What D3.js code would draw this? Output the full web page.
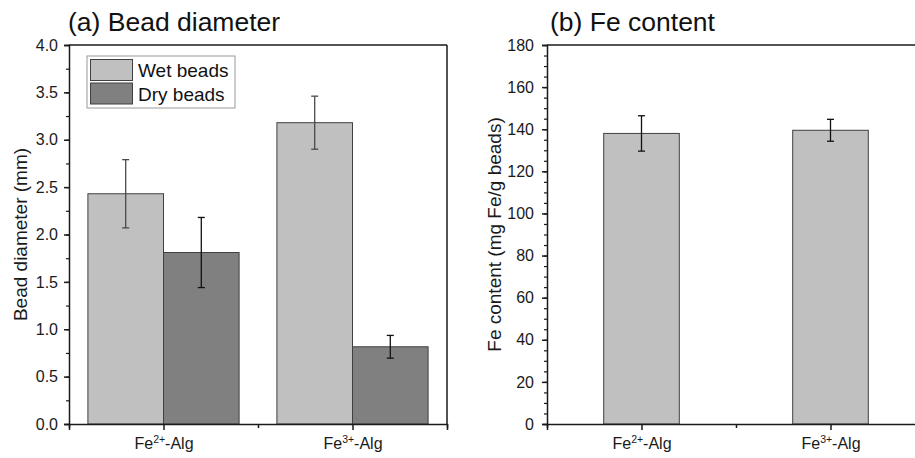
<!DOCTYPE html>
<html>
<head>
<meta charset="utf-8">
<script src="https://cdn.jsdelivr.net/npm/d3@7"></script>
<style>
  body { margin: 0; background: #fff; }
  svg { display: block; font-family: "Liberation Sans", Arial, sans-serif; }
</style>
</head>
<body>
<svg id="chart" width="915" height="458"></svg>
<script>
// ---- data ----
const categories = [1, 2];
const categoryIons = ["2+", "3+"];
const seriesNames = ["Wet beads", "Dry beads"];
const wetDiameter = [2.43, 3.18];
const wetDiameterErr = [0.36, 0.28];
const dryDiameter = [1.81, 0.815];
const dryDiameterErr = [0.37, 0.12];
const feContent = [138.0, 139.5];
const feContentErr = [8.4, 5.2];
const diamTicks = [0, 0.5, 1.0, 1.5, 2.0, 2.5, 3.0, 3.5, 4.0];
const feTicks = [0, 20, 40, 60, 80, 100, 120, 140, 160, 180];

// ---- style ----
const wetColor = "#c0c0c0", dryColor = "#808080", barStroke = "#404040";
const axisColor = "#1a1a1a";
const svg = d3.select("#chart");

function drawPanel(opts) {
  const g = svg.append("g");
  const x = d3.scaleLinear().domain([0.5, 2.5]).range(opts.xr);
  const y = d3.scaleLinear().domain(opts.ydom).range([424, 45]);

  // bars
  opts.series.forEach(s => {
    g.selectAll(null).data(s.values).enter().append("rect")
      .attr("x", (d, i) => x(categories[i] + s.offset))
      .attr("width", x(1.4) - x(1.0))
      .attr("y", d => y(d))
      .attr("height", d => y(0) - y(d))
      .attr("fill", s.color)
      .attr("stroke", barStroke)
      .attr("stroke-width", 1);
  });
  // error bars
  opts.series.forEach(s => {
    const cx = i => x(categories[i] + s.offset + 0.2);
    const eg = g.append("g").attr("stroke", s.errColor).attr("stroke-width", 1.3);
    s.values.forEach((v, i) => {
      const hi = y(v + s.err[i]), lo = y(v - s.err[i]);
      eg.append("line").attr("x1", cx(i)).attr("x2", cx(i)).attr("y1", hi).attr("y2", lo);
      eg.append("line").attr("x1", cx(i) - 3.5).attr("x2", cx(i) + 3.5).attr("y1", hi).attr("y2", hi);
      eg.append("line").attr("x1", cx(i) - 3.5).attr("x2", cx(i) + 3.5).attr("y1", lo).attr("y2", lo);
    });
  });

  // frame: top and right
  g.append("line").attr("x1", x(0.5)).attr("x2", x(2.5)).attr("y1", y.range()[1]).attr("y2", y.range()[1])
    .attr("stroke", axisColor).attr("stroke-width", 1.5);
  g.append("line").attr("x1", x(2.5)).attr("x2", x(2.5)).attr("y1", y.range()[0]).attr("y2", y.range()[1])
    .attr("stroke", axisColor).attr("stroke-width", 1.5);

  // y axis minor
  const ymin = d3.range(opts.ydom[0], opts.ydom[1] + 1e-9, opts.minorStep);
  const yMinorAxis = d3.axisLeft(y).tickValues(ymin).tickSize(3).tickFormat("");
  const ym = g.append("g").attr("transform", `translate(${x(0.5)},0)`).call(yMinorAxis);
  ym.select(".domain").remove();
  ym.selectAll("line").attr("stroke", axisColor).attr("stroke-width", 1.2);
  // y axis major
  const yAxis = d3.axisLeft(y).tickValues(opts.yticks).tickSize(5).tickPadding(opts.tickPad)
    .tickFormat(opts.fmt);
  const ya = g.append("g").attr("transform", `translate(${x(0.5)},0)`).call(yAxis);
  ya.select(".domain").attr("stroke", axisColor).attr("stroke-width", 1.5);
  ya.selectAll("line").attr("stroke", axisColor).attr("stroke-width", 1.5);
  ya.selectAll("text").attr("font-size", 16).attr("fill", "#1a1a1a").attr("font-family", "Liberation Sans, Arial, sans-serif");

  // x axis minor ticks at 0.5,1.5,2.5
  const xMinor = d3.axisBottom(x).tickValues([0.5, 1.5, 2.5]).tickSize(4).tickFormat("");
  const xm = g.append("g").attr("transform", `translate(0,${y(0)})`).call(xMinor);
  xm.select(".domain").remove();
  xm.selectAll("line").attr("stroke", axisColor).attr("stroke-width", 1.5);
  // x axis major
  const xAxis = d3.axisBottom(x).tickValues(categories).tickSize(6).tickFormat("");
  const xa = g.append("g").attr("transform", `translate(0,${y(0)})`).call(xAxis);
  xa.select(".domain").attr("stroke", axisColor).attr("stroke-width", 1.5);
  xa.selectAll("line").attr("stroke", axisColor).attr("stroke-width", 1.5);
  xa.selectAll(".tick").each(function(d, i) {
    const t = d3.select(this).append("text")
      .attr("y", 25).attr("text-anchor", "middle").attr("fill", "#1a1a1a")
      .attr("font-size", 16).attr("font-family", "Liberation Sans, Arial, sans-serif");
    t.append("tspan").text("Fe");
    t.append("tspan").text(categoryIons[i]).attr("font-size", 10.5).attr("dy", -6);
    t.append("tspan").text("-Alg").attr("dy", 6);
  });

  // title
  g.append("text").attr("x", opts.titleX).attr("y", 31).attr("font-size", 26.5)
    .attr("fill", "#111").text(opts.title);
  // y label
  g.append("text").attr("transform", `translate(${opts.ylabX},${(y.range()[0] + y.range()[1]) / 2}) rotate(-90)`)
    .attr("text-anchor", "middle").attr("font-size", 19).attr("fill", "#1a1a1a").text(opts.ylabel);
  return { g, x, y };
}

const pa = drawPanel({
  xr: [69, 447], ydom: [0, 4], yticks: diamTicks, minorStep: 0.25, fmt: d3.format(".1f"), tickPad: 6,
  series: [
    { values: wetDiameter, err: wetDiameterErr, offset: -0.4, color: wetColor, errColor: "#4a4a4a" },
    { values: dryDiameter, err: dryDiameterErr, offset: 0.0, color: dryColor, errColor: "#111" }
  ],
  title: "(a) Bead diameter", titleX: 68, ylabel: "Bead diameter (mm)", ylabX: 27
});

const pb = drawPanel({
  xr: [547, 925], ydom: [0, 180], yticks: feTicks, minorStep: 5, fmt: d3.format("d"), tickPad: 8,
  series: [
    { values: feContent, err: feContentErr, offset: -0.2, color: wetColor, errColor: "#111" }
  ],
  title: "(b) Fe content", titleX: 550, ylabel: "Fe content (mg Fe/g beads)", ylabX: 501
});

// legend for panel a
const leg = svg.append("g");
leg.append("rect").attr("x", 87).attr("y", 56).attr("width", 148).attr("height", 52)
  .attr("fill", "#fff").attr("stroke", "#9a9a9a").attr("stroke-width", 1);
const legColors = [wetColor, dryColor];
seriesNames.forEach((name, i) => {
  leg.append("rect").attr("x", 90.5).attr("y", 59.5 + i * 23.5).attr("width", 42).attr("height", 21)
    .attr("fill", legColors[i]).attr("stroke", barStroke).attr("stroke-width", 1);
  leg.append("text").attr("x", 138).attr("y", 77 + i * 23.5).attr("font-size", 19)
    .attr("fill", "#111").text(name);
});
</script>
</body>
</html>
